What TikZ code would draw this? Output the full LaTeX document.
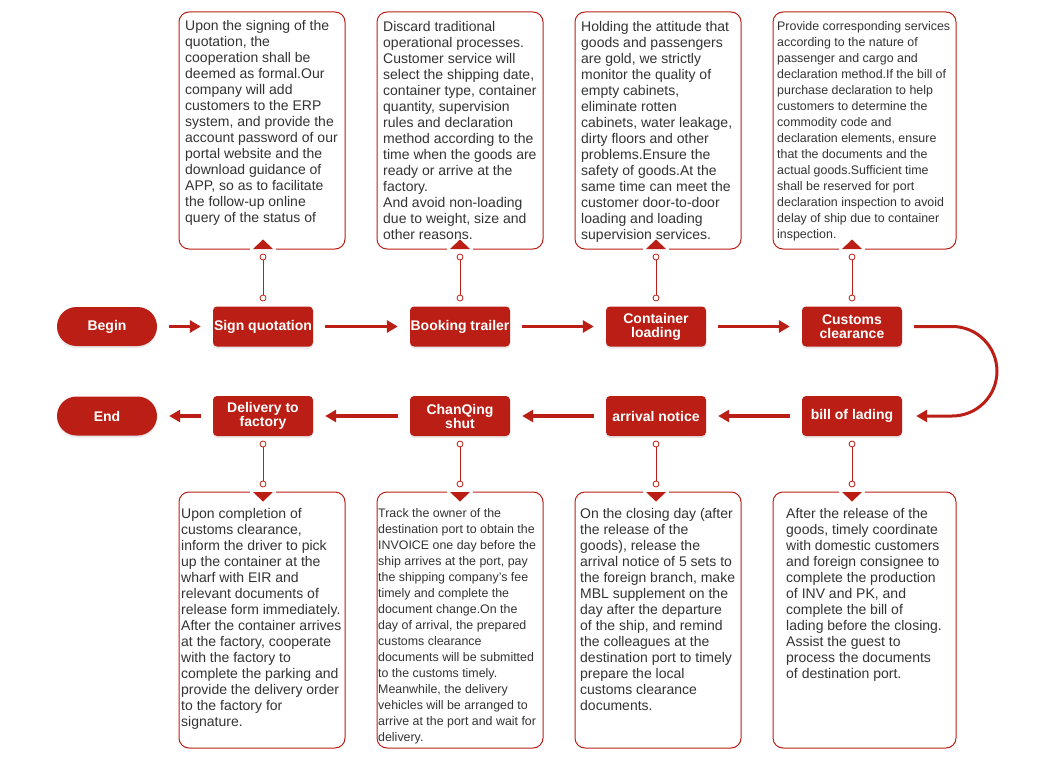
\documentclass[tikz,border=0pt]{standalone}
\usepackage{fontspec}
\setmainfont{Liberation Sans}
\usetikzlibrary{arrows.meta,positioning,shadows}
\definecolor{flowred}{RGB}{186,30,20}
\definecolor{notegray}{RGB}{51,51,51}
\begin{document}
\begin{tikzpicture}[x=1pt,y=-1pt,
  stepbox/.style={fill=flowred, rounded corners=4pt, minimum width=100pt, minimum height=40pt, inner sep=0pt, text=white, align=center, font=\bfseries\fontsize{14}{14}\selectfont, drop shadow={opacity=0.18, shadow xshift=0pt, shadow yshift=-2pt}},
  endbox/.style={stepbox, rounded corners=19.5pt, minimum height=39pt},
  notebox/.style={draw=flowred, line width=1pt, rounded corners=10pt, fill=white},
  notetext/.style={anchor=north west, inner sep=0pt, align=left, text=notegray, font=\fontsize{14}{16}\selectfont},
  flow/.style={flowred, line width=3.5pt, -{Triangle[length=11pt,width=12pt]}, shorten <=12pt, shorten >=12pt},
  dot/.style={circle, draw=flowred, fill=white, line width=0.8pt, inner sep=0pt, minimum size=6pt},
  stem/.style={flowred, line width=1pt}]
\useasboundingbox (0,0) rectangle (1056,767);

\node[endbox] (start) at (107,326.5) {Begin};
\node[stepbox] (sign) at (263,326.5) {Sign quotation};
\node[stepbox] (book) at (460,326.5) {Booking trailer};
\node[stepbox] (load) at (656,326.5) {Container\\loading};
\node[stepbox] (customs) at (852,326.5) {Customs\\clearance};
\node[stepbox] (lading) at (852,416) {bill of lading};
\node[stepbox] (notice) at (656,416) {arrival notice};
\node[stepbox] (shut) at (460,416) {ChanQing\\shut};
\node[stepbox] (deliver) at (263,416) {Delivery to\\factory};
\node[endbox] (finish) at (107,416) {End};

\draw[flow] (start) -- (sign);
\draw[flow] (sign) -- (book);
\draw[flow] (book) -- (load);
\draw[flow] (load) -- (customs);
\draw[flowred, line width=3pt, -{Triangle[length=11pt,width=12pt]}] ([xshift=12pt]customs.east) -- ++(38,0) arc[start angle=-90, end angle=90, radius=44.75] -- ([xshift=14pt]lading.east);
\draw[flow] (lading) -- (notice);
\draw[flow] (notice) -- (shut);
\draw[flow] (shut) -- (deliver);
\draw[flow] (deliver) -- (finish);

\node[notebox, minimum width=166pt, minimum height=237pt] (n1) at (262,130.5) {};
\node[notebox, minimum width=166pt, minimum height=237pt] (n2) at (460,130.5) {};
\node[notebox, minimum width=166pt, minimum height=237pt] (n3) at (658,130.5) {};
\node[notebox, minimum width=183pt, minimum height=237pt] (n4) at (864.5,130.5) {};
\node[notebox, minimum width=166pt, minimum height=256pt] (n5) at (262,620) {};
\node[notebox, minimum width=166pt, minimum height=256pt] (n6) at (460,620) {};
\node[notebox, minimum width=166pt, minimum height=256pt] (n7) at (658,620) {};
\node[notebox, minimum width=183pt, minimum height=256pt] (n8) at (864.5,620) {};

\draw[white, line width=3pt] (250,249) -- (276,249);
\fill[flowred] (253,249) -- (273,249) -- (263,239.5) -- cycle;
\draw[white, line width=3pt] (447,249) -- (473,249);
\fill[flowred] (450,249) -- (470,249) -- (460,239.5) -- cycle;
\draw[white, line width=3pt] (643,249) -- (669,249);
\fill[flowred] (646,249) -- (666,249) -- (656,239.5) -- cycle;
\draw[white, line width=3pt] (839,249) -- (865,249);
\fill[flowred] (842,249) -- (862,249) -- (852,239.5) -- cycle;
\draw[white, line width=3pt] (250,492) -- (276,492);
\fill[flowred] (253,492) -- (273,492) -- (263,501.5) -- cycle;
\draw[white, line width=3pt] (447,492) -- (473,492);
\fill[flowred] (450,492) -- (470,492) -- (460,501.5) -- cycle;
\draw[white, line width=3pt] (643,492) -- (669,492);
\fill[flowred] (646,492) -- (666,492) -- (656,501.5) -- cycle;
\draw[white, line width=3pt] (839,492) -- (865,492);
\fill[flowred] (842,492) -- (862,492) -- (852,501.5) -- cycle;

\node[dot] (sign-a) at (263,257) {};
\node[dot] (sign-b) at (263,298) {};
\node[dot] (book-a) at (460,257) {};
\node[dot] (book-b) at (460,298) {};
\node[dot] (load-a) at (656,257) {};
\node[dot] (load-b) at (656,298) {};
\node[dot] (customs-a) at (852,257) {};
\node[dot] (customs-b) at (852,298) {};
\node[dot] (deliver-a) at (263,444) {};
\node[dot] (deliver-b) at (263,484) {};
\node[dot] (shut-a) at (460,444) {};
\node[dot] (shut-b) at (460,484) {};
\node[dot] (notice-a) at (656,444) {};
\node[dot] (notice-b) at (656,484) {};
\node[dot] (lading-a) at (852,444) {};
\node[dot] (lading-b) at (852,484) {};
\draw[stem] (sign-a) -- (sign-b);
\draw[stem] (book-a) -- (book-b);
\draw[stem] (load-a) -- (load-b);
\draw[stem] (customs-a) -- (customs-b);
\draw[stem] (deliver-a) -- (deliver-b);
\draw[stem] (shut-a) -- (shut-b);
\draw[stem] (notice-a) -- (notice-b);
\draw[stem] (lading-a) -- (lading-b);

\node[notetext] (t1) at (185,20) {Upon the signing of the\\quotation, the\\cooperation shall be\\deemed as formal.Our\\company will add\\customers to the ERP\\system, and provide the\\account password of our\\portal website and the\\download guidance of\\APP, so as to facilitate\\the follow-up online\\query of the status of};
\node[notetext] (t2) at (383,21) {Discard traditional\\operational processes.\\Customer service will\\select the shipping date,\\container type, container\\quantity, supervision\\rules and declaration\\method according to the\\time when the goods are\\ready or arrive at the\\factory.\\And avoid non-loading\\due to weight, size and\\other reasons.};
\node[notetext] (t3) at (581,21) {Holding the attitude that\\goods and passengers\\are gold, we strictly\\monitor the quality of\\empty cabinets,\\eliminate rotten\\cabinets, water leakage,\\dirty floors and other\\problems.Ensure the\\safety of goods.At the\\same time can meet the\\customer door-to-door\\loading and loading\\supervision services.};
\node[notetext, font=\fontsize{12.4}{16}\selectfont] (t4) at (777,21) {Provide corresponding services\\according to the nature of\\passenger and cargo and\\declaration method.If the bill of\\purchase declaration to help\\customers to determine the\\commodity code and\\declaration elements, ensure\\that the documents and the\\actual goods.Sufficient time\\shall be reserved for port\\declaration inspection to avoid\\delay of ship due to container\\inspection.};
\node[notetext] (t5) at (181,508) {Upon completion of\\customs clearance,\\inform the driver to pick\\up the container at the\\wharf with EIR and\\relevant documents of\\release form immediately.\\After the container arrives\\at the factory, cooperate\\with the factory to\\complete the parking and\\provide the delivery order\\to the factory for\\signature.};
\node[notetext, font=\fontsize{12.4}{16}\selectfont] (t6) at (378,508) {Track the owner of the\\destination port to obtain the\\INVOICE one day before the\\ship arrives at the port, pay\\the shipping company's fee\\timely and complete the\\document change.On the\\day of arrival, the prepared\\customs clearance\\documents will be submitted\\to the customs timely.\\Meanwhile, the delivery\\vehicles will be arranged to\\arrive at the port and wait for\\delivery.};
\node[notetext] (t7) at (580,508) {On the closing day (after\\the release of the\\goods), release the\\arrival notice of 5 sets to\\the foreign branch, make\\MBL supplement on the\\day after the departure\\of the ship, and remind\\the colleagues at the\\destination port to timely\\prepare the local\\customs clearance\\documents.};
\node[notetext] (t8) at (786,508) {After the release of the\\goods, timely coordinate\\with domestic customers\\and foreign consignee to\\complete the production\\of INV and PK, and\\complete the bill of\\lading before the closing.\\Assist the guest to\\process the documents\\of destination port.};
\end{tikzpicture}
\end{document}
